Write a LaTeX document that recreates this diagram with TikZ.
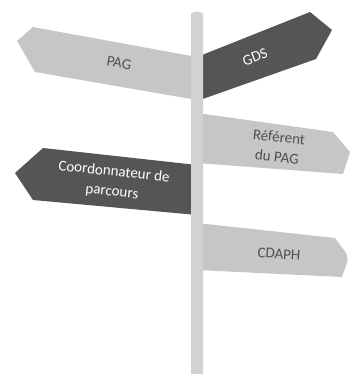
\documentclass[tikz,border=0pt]{standalone}
\usepackage{fontspec}
\setmainfont{Carlito}
\definecolor{signlight}{HTML}{C6C6C6}
\definecolor{signdark}{HTML}{555555}
\definecolor{polegray}{HTML}{D2D2D2}
\definecolor{inkdark}{HTML}{505050}
\begin{document}
\begin{tikzpicture}[x=1pt,y=-1pt,
  lightsign/.style={fill=signlight,draw=none},
  darksign/.style={fill=signdark,draw=none},
  signtext/.style={font=\fontsize{15}{20}\selectfont,align=center,inner sep=1pt},
  onlight/.style={signtext,text=inkdark},
  ondark/.style={signtext,text=white}]
\useasboundingbox (0,0) rectangle (351,374);
% signs
\fill[lightsign] (197,57) -- (33,27) -- (17,41) -- (35,72) -- (197,100) -- cycle;
\fill[darksign] (197,57) -- (310,12) -- (332,30) -- (316,59) -- (197,101) -- cycle;
\fill[lightsign] (197,113) -- (333,132) -- (350,152) -- (343,174) -- (197,163) -- cycle;
\fill[darksign] (197,165) -- (43,148) -- (15,173) -- (33,200) -- (197,215) -- cycle;
\fill[lightsign] (197,223) -- (335,238) [rounded corners=6pt] -- (349,257) [sharp corners] -- (342,277) -- (197,270) -- cycle;
% pole
\fill[polegray] (191,374) -- (191,14) [rounded corners=2pt] -- (192,12) -- (202,12) [sharp corners] -- (203,14) -- (203,374) -- cycle;
% labels
\node[onlight,rotate=-10] (pag) at (119,63) {PAG};
\node[ondark,rotate=21] (gds) at (255,57) {GDS};
\node[onlight,rotate=-6] (ref) at (278,147) {Référent\\du PAG};
\node[ondark,rotate=-6] (coord) at (113,182) {Coordonnateur de\\parcours};
\node[onlight,rotate=-4] (cdaph) at (279,254) {CDAPH};
\end{tikzpicture}
\end{document}
